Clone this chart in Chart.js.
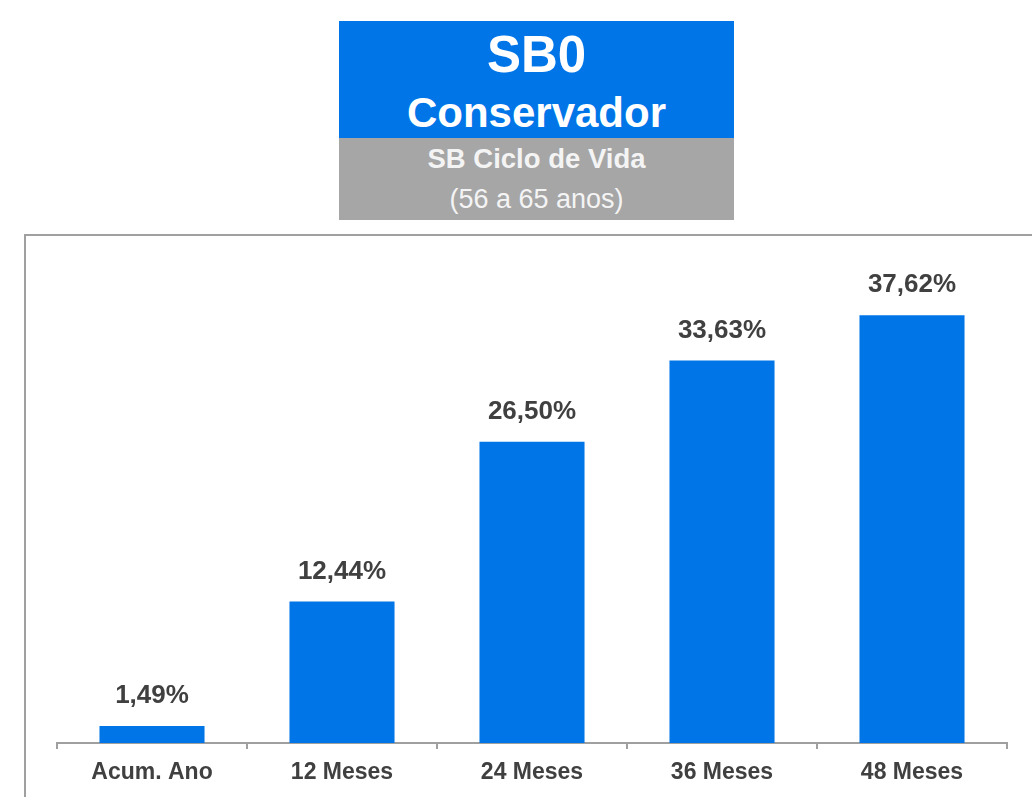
<!DOCTYPE html>
<html>
<head>
<meta charset="utf-8">
<script src="https://cdn.jsdelivr.net/npm/chart.js@4/dist/chart.umd.min.js"></script>
<style>
  html, body { margin: 0; padding: 0; background: #fff; }
  body { width: 1032px; height: 797px; position: relative; overflow: hidden; font-family: "Liberation Sans", Arial, sans-serif; }
  #frame { position: absolute; left: 24px; top: 234px; width: 1040px; height: 580px; border: 2px solid #a0a0a0; box-sizing: border-box; }
  #blue { position: absolute; left: 339px; top: 21px; width: 395px; height: 117px; background: #0075E8; color: #fff; text-align: center; font-weight: bold; }
  #gray { position: absolute; left: 339px; top: 138px; width: 395px; height: 82px; background: #A6A6A6; color: #f4f4f4; text-align: center; }
  .t1 { position: absolute; left: 0; right: 0; top: 4px; font-size: 51px; line-height: 60px; }
  .t2 { position: absolute; left: 0; right: 0; top: 67px; font-size: 42px; line-height: 50px; }
  .t3 { position: absolute; left: 0; right: 0; top: 5px; font-size: 27.5px; line-height: 32px; font-weight: bold; }
  .t4 { position: absolute; left: 0; right: 0; top: 45px; font-size: 27px; line-height: 32px; }
  #wrap { position: absolute; left: 0; top: 0; width: 1032px; height: 797px; }
</style>
</head>
<body>
<div id="frame"></div>
<div id="wrap"><canvas id="c" width="1032" height="797"></canvas></div>
<div id="blue"><div class="t1">SB0</div><div class="t2">Conservador</div></div>
<div id="gray"><div class="t3">SB Ciclo de Vida</div><div class="t4">(56 a 65 anos)</div></div>
<script>
const categories = ["Acum. Ano", "12 Meses", "24 Meses", "36 Meses", "48 Meses"];
const values = [1.49, 12.44, 26.50, 33.63, 37.62];
const valueLabels = ["1,49%", "12,44%", "26,50%", "33,63%", "37,62%"];

const labelPlugin = {
  id: 'valueLabels',
  afterDatasetsDraw(chart) {
    const ctx = chart.ctx;
    const meta = chart.getDatasetMeta(0);
    ctx.save();
    ctx.font = 'bold 26px "Liberation Sans", Arial, sans-serif';
    ctx.fillStyle = '#404040';
    ctx.textAlign = 'center';
    ctx.textBaseline = 'alphabetic';
    meta.data.forEach((bar, i) => {
      ctx.fillText(valueLabels[i], bar.x, bar.y - 23);
    });
    ctx.restore();
  }
};

new Chart(document.getElementById('c'), {
  type: 'bar',
  data: {
    labels: categories,
    datasets: [{
      data: values,
      backgroundColor: '#0075E8',
      borderWidth: 0,
      categoryPercentage: 1.0,
      barPercentage: 0.553
    }]
  },
  options: {
    responsive: false,
    animation: false,
    devicePixelRatio: 1,
    layout: { padding: { left: 57, right: 25, top: 254, bottom: 0 } },
    plugins: { legend: { display: false }, tooltip: { enabled: false }, title: { display: false } },
    scales: {
      y: { display: false, min: 0, max: 43 },
      x: {
        afterFit(axis) { axis.height = 54; },
        grid: { display: true, drawOnChartArea: false, drawTicks: true, tickLength: 6, color: '#a0a0a0', lineWidth: 2, offset: true },
        border: { display: true, color: '#a0a0a0', width: 2 },
        ticks: { color: '#404040', font: { family: '"Liberation Sans", Arial, sans-serif', size: 23, weight: 'bold' }, padding: 10, maxRotation: 0, autoSkip: false }
      }
    }
  },
  plugins: [labelPlugin]
});
</script>
</body>
</html>
